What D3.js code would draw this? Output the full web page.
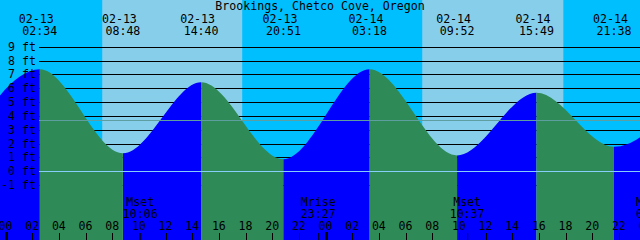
<!DOCTYPE html>
<html>
<head>
<meta charset="utf-8">
<script src="https://cdn.jsdelivr.net/npm/d3@7"></script>
<style>
  body { margin: 0; background: #fff; }
  svg { display: block; }
  text { font-family: "DejaVu Sans Mono", monospace; font-size: 11.6px; fill: #000; }
</style>
</head>
<body>
<div id="chart"></div>
<script>
const title = "Brookings, Chetco Cove, Oregon";

// high / low tide events (first and last are just outside the window)
const tideTimes = ["02-12 20:20", "02-13 02:34", "02-13 08:48", "02-13 14:40", "02-13 20:51",
                   "02-14 03:18", "02-14 09:52", "02-14 15:49", "02-14 21:38", "02-15 03:59"];
const tideHeights = [0.8, 7.37, 1.30, 6.43, 0.87, 7.37, 1.15, 5.68, 1.78, 7.2];

// sunrise / sunset
const sunrise = ["02-13 07:15", "02-14 07:15"];
const sunset = ["02-13 17:45", "02-14 17:50"];

// moon events
const moonNames = ["Mset", "Mrise", "Mset", "Mrise"];
const moonTimes = ["02-13 10:06", "02-13 23:27", "02-14 10:37", "02-15 00:36"];

const footTicks = [9, 8, 7, 6, 5, 4, 3, 2, 1, 0, -1];
const meanLevel = 3.69;

const width = 640;
const height = 240;

const parse = s => {
    const [md, hm] = s.split(" ");
    const [mo, d] = md.split("-").map(Number);
    const [h, m] = hm.split(":").map(Number);
    return new Date(Date.UTC(2021, mo - 1, d, h, m));
};

const tides = tideTimes.map((t, i) => ({date: parse(t), h: tideHeights[i], label: t}));

const svg = d3.select('#chart')
    .append('svg')
    .attr('width', width)
    .attr('height', height);

const x = d3.scaleUtc()
    .domain([parse("02-12 23:35"), parse("02-14 23:35")])
    .range([0, width]);

const y = d3.scaleLinear()
    .domain([0, 9])
    .range([171.3, 46.7]);

// night background, then day bands
svg.append('rect')
    .attr('width', width).attr('height', height)
    .attr('fill', '#00bfff');

svg.append('g')
    .selectAll('rect')
    .data(sunrise)
    .join('rect')
        .attr('x', d => x(parse(d)))
        .attr('y', 0)
        .attr('width', (d, i) => x(parse(sunset[i])) - x(parse(d)))
        .attr('height', height)
        .attr('fill', '#87ceeb');

// foot grid lines (hidden by the water)
svg.append('g')
    .selectAll('line')
    .data(footTicks)
    .join('line')
        .attr('x1', 39).attr('x2', width)
        .attr('y1', d => Math.round(y(d)) + 0.5)
        .attr('y2', d => Math.round(y(d)) + 0.5)
        .attr('stroke', '#000');

// water, blue while rising and green while falling
const area = d3.area()
    .x(d => x(d.date))
    .y0(height)
    .y1(d => y(d.h))
    .curve(d3.curveMonotoneX);

const defs = svg.append('defs');
tides.slice(0, -1).forEach((d, i) => {
    const next = tides[i + 1];
    defs.append('clipPath')
        .attr('id', 'seg' + i)
        .append('rect')
            .attr('x', x(d.date))
            .attr('y', 0)
            .attr('width', x(next.date) - x(d.date))
            .attr('height', height);
    svg.append('path')
        .datum(tides)
        .attr('d', area)
        .attr('clip-path', `url(#seg${i})`)
        .attr('fill', next.h > d.h ? '#0000ff' : '#2e8b57');
});

// mean level and datum lines drawn over the water
svg.append('line')
    .attr('x1', 39).attr('x2', width)
    .attr('y1', Math.round(y(meanLevel)) + 0.5).attr('y2', Math.round(y(meanLevel)) + 0.5)
    .attr('stroke', '#5f9ea0');

svg.append('line')
    .attr('x1', 39).attr('x2', width)
    .attr('y1', Math.round(y(0)) + 0.5).attr('y2', Math.round(y(0)) + 0.5)
    .attr('stroke', '#87cefa');

// foot labels
svg.append('g')
    .selectAll('text')
    .data(footTicks)
    .join('text')
        .attr('x', 36)
        .attr('y', d => y(d) + 4)
        .attr('text-anchor', 'end')
        .text(d => d + ' ft');

// title
svg.append('text')
    .attr('x', width / 2)
    .attr('y', 9.5)
    .attr('text-anchor', 'middle')
    .text(title);

// high / low labels at the top
const shown = tides.filter(d => x(d.date) >= 0 && x(d.date) <= width);
const eventLabels = svg.append('g')
    .selectAll('g')
    .data(shown)
    .join('g')
        .attr('transform', d => `translate(${x(d.date)},0)`);
eventLabels.append('text')
    .attr('x', -3.5).attr('y', 22.5)
    .attr('text-anchor', 'middle')
    .text(d => d.label.split(" ")[0]);
eventLabels.append('text')
    .attr('y', 34.5)
    .attr('text-anchor', 'middle')
    .text(d => d.label.split(" ")[1]);

// moon events at the bottom
const moon = svg.append('g')
    .selectAll('g')
    .data(moonTimes)
    .join('g')
        .attr('transform', d => `translate(${x(parse(d))},0)`);
moon.append('text')
    .attr('y', 206)
    .attr('text-anchor', 'middle')
    .text((d, i) => moonNames[i]);
moon.append('text')
    .attr('y', 217.5)
    .attr('text-anchor', 'middle')
    .text(d => d.split(" ")[1]);
moon.append('line')
    .attr('x1', 0.5).attr('x2', 0.5)
    .attr('y1', 233).attr('y2', height)
    .attr('stroke', '#000');

// hour axis
function xAxis(g) {
    const hours = d3.utcHour.every(2).range(parse("02-12 22:00"), parse("02-15 02:00"));
    g.selectAll('text')
        .data(hours)
        .join('text')
            .attr('x', d => x(d))
            .attr('y', 229.5)
            .attr('text-anchor', 'middle')
            .text(d => d3.utcFormat('%H')(d));
    g.selectAll('line')
        .data(hours)
        .join('line')
            .attr('x1', d => Math.round(x(d)) + 0.5)
            .attr('x2', d => Math.round(x(d)) + 0.5)
            .attr('y1', d => d.getUTCHours() === 0 ? 232 : 233)
            .attr('y2', height)
            .attr('stroke', '#000')
            .attr('stroke-width', d => d.getUTCHours() === 0 ? 3 : 1);
}

svg.append('g').call(xAxis);
</script>
</body>
</html>
